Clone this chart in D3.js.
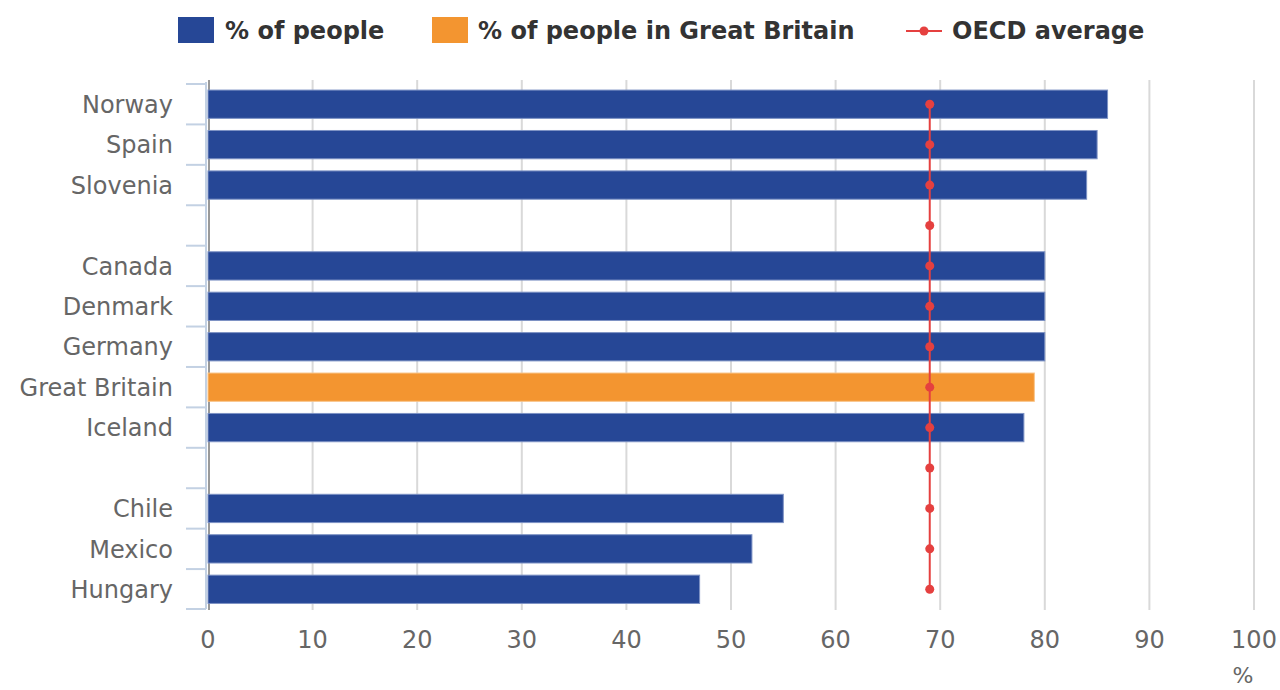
<!DOCTYPE html>
<html>
<head>
<meta charset="utf-8">
<script src="https://cdn.jsdelivr.net/npm/d3@7"></script>
<style>
  html, body { margin: 0; padding: 0; background: #fff; }
  svg { display: block; }
</style>
</head>
<body>
<svg id="chart" width="1280" height="690"></svg>
<script>
// Rows from top to bottom; null entries are empty spacer rows.
const categories = ["Norway", "Spain", "Slovenia", null, "Canada", "Denmark", "Germany",
                    "Great Britain", "Iceland", null, "Chile", "Mexico", "Hungary"];
const values = [86, 85, 84, null, 80, 80, 80, 79, 78, null, 55, 52, 47];
const oecdAverage = [69, 69, 69, 69, 69, 69, 69, 69, 69, 69, 69, 69, 69];
const highlight = "Great Britain";
const xTicks = [0, 10, 20, 30, 40, 50, 60, 70, 80, 90, 100];
const legendLabels = ["% of people", "% of people in Great Britain", "OECD average"];

const BLUE = "#264796", ORANGE = "#f39530", RED = "#e5403f";

const svg = d3.select("#chart");
const keys = categories.map((c, i) => c === null ? "gap" + i : c);
const rows = keys.map((k, i) => ({ key: k, label: categories[i] || "", value: values[i], oecd: oecdAverage[i] }));

const x = d3.scaleLinear().domain([0, 100]).range([208, 1254]);
const y = d3.scaleBand().domain(keys).range([84, 609.5]).paddingInner(0.3).paddingOuter(0.15);
const step = y.step();
const bandTop = k => y(k) - step * y.paddingInner() / 2;

// vertical gridlines
const grid = svg.append("g");
grid.selectAll("line").data(xTicks).join("line")
  .attr("x1", d => x(d) + (d === 0 ? 1 : 0)).attr("x2", d => x(d) + (d === 0 ? 1 : 0))
  .attr("y1", 80).attr("y2", 610)
  .attr("stroke", d => d === 0 ? "#999" : "#d9d9d9")
  .attr("stroke-width", 2);

// bars
svg.append("g").selectAll("rect").data(rows.filter(r => r.value !== null)).join("rect")
  .attr("x", x(0))
  .attr("y", d => y(d.key))
  .attr("width", d => x(d.value) - x(0))
  .attr("height", y.bandwidth())
  .attr("fill", d => d.label === highlight ? ORANGE : BLUE)
  .attr("stroke", d => d.label === highlight ? "#f8c48a" : "#7d92c4")
  .attr("stroke-width", 1);

// y axis line and band-boundary ticks
const yAxis = svg.append("g");
yAxis.append("line")
  .attr("x1", 206).attr("x2", 206).attr("y1", 82).attr("y2", 609)
  .attr("stroke", "#c3d1e3").attr("stroke-width", 2);
const boundaries = keys.map(k => bandTop(k)).concat([609]);
yAxis.selectAll("line.tick").data(boundaries).join("line").attr("class", "tick")
  .attr("x1", 186).attr("x2", 206).attr("y1", d => d).attr("y2", d => d)
  .attr("stroke", "#c3d1e3").attr("stroke-width", 2);

// category labels
svg.append("g").selectAll("text").data(rows).join("text")
  .attr("x", 173)
  .attr("y", d => y(d.key) + y.bandwidth() / 2)
  .attr("dy", "0.36em")
  .attr("text-anchor", "end")
  .attr("font-family", "DejaVu Sans")
  .attr("font-size", 24)
  .attr("fill", "#666")
  .text(d => d.label);

// OECD average line with markers
const line = d3.line().x(d => x(d.oecd)).y(d => y(d.key) + y.bandwidth() / 2);
svg.append("path").datum(rows)
  .attr("d", line).attr("fill", "none")
  .attr("stroke", RED).attr("stroke-width", 2);
svg.append("g").selectAll("circle").data(rows).join("circle")
  .attr("cx", d => x(d.oecd)).attr("cy", d => y(d.key) + y.bandwidth() / 2)
  .attr("r", 4.5).attr("fill", RED);

// x tick labels
svg.append("g").selectAll("text").data(xTicks).join("text")
  .attr("x", d => x(d)).attr("y", 648)
  .attr("text-anchor", "middle")
  .attr("font-family", "DejaVu Sans").attr("font-size", 24)
  .attr("fill", "#666")
  .text(d => d);
svg.append("text")
  .attr("x", 1243).attr("y", 683).attr("text-anchor", "middle")
  .attr("font-family", "DejaVu Sans").attr("font-size", 22).attr("fill", "#666")
  .text("%");

// legend
const legend = svg.append("g").attr("font-family", "DejaVu Sans").attr("font-weight", "bold")
  .attr("font-size", 24).attr("fill", "#333");
legend.append("rect").attr("x", 178).attr("y", 17).attr("width", 36).attr("height", 26).attr("fill", BLUE);
legend.append("text").attr("x", 225).attr("y", 30).attr("dy", "0.36em").text(legendLabels[0]);
legend.append("rect").attr("x", 432).attr("y", 17).attr("width", 36).attr("height", 26).attr("fill", ORANGE);
legend.append("text").attr("x", 478).attr("y", 30).attr("dy", "0.36em").text(legendLabels[1]);
legend.append("line").attr("x1", 906).attr("x2", 942).attr("y1", 31).attr("y2", 31)
  .attr("stroke", RED).attr("stroke-width", 2);
legend.append("circle").attr("cx", 924).attr("cy", 31).attr("r", 4.5).attr("fill", RED);
legend.append("text").attr("x", 952).attr("y", 30).attr("dy", "0.36em").text(legendLabels[2]);
</script>
</body>
</html>
